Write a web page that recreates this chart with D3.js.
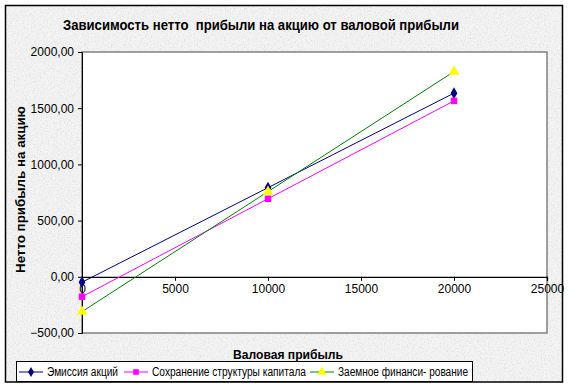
<!DOCTYPE html>
<html>
<head>
<meta charset="utf-8">
<script src="https://cdn.jsdelivr.net/npm/d3@7"></script>
<style>
  body { margin: 0; background: #fff; }
  svg text { font-family: "Liberation Sans", Arial, sans-serif; }
</style>
</head>
<body>
<div id="chart"></div>
<script>
// chart values
var grossProfit = [0, 10000, 20000];
var seriesNames = ["Эмиссия акций", "Сохранение структуры капитала", "Заемное финанси- рование"];
var emissionValues = [-48, 793, 1634];
var retainValues = [-177, 694, 1565];
var loanValues = [-310, 758, 1826];
var xTicks = [0, 5000, 10000, 15000, 20000, 25000];
var yTicks = [-500, 0, 500, 1000, 1500, 2000];

var colors = ["#000080", "#ff00ff", "#008000"];
var markerFill = ["#000080", "#ff00ff", "#ffff00"];
var markerType = [d3.symbolDiamond, d3.symbolSquare, d3.symbolTriangle];
var markerSize = [40, 42, 50];

var W = 570, H = 389;
var plot = { left: 82, top: 52, right: 547, bottom: 333 };

var svg = d3.select("#chart").append("svg")
    .attr("width", W).attr("height", H);

// squeeze a text element to the width it has in the picture
function fitWidth(sel, w) {
    sel.attr("textLength", w).attr("lengthAdjust", "spacingAndGlyphs");
}

// granite-like background texture
var defs = svg.append("defs");
var f = defs.append("filter").attr("id", "granite")
    .attr("x", 0).attr("y", 0).attr("width", "100%").attr("height", "100%");
f.append("feTurbulence").attr("type", "fractalNoise")
    .attr("baseFrequency", 0.7).attr("numOctaves", 2).attr("seed", 3).attr("result", "noise");
f.append("feColorMatrix").attr("in", "noise").attr("type", "matrix")
    .attr("values", "0 0 0 0 0.6  0 0 0 0 0.6  0 0 0 0 0.6  -1.2 0 0 0 0.65")
    .attr("result", "spots");
f.append("feFlood").attr("flood-color", "#f3f3f3").attr("result", "base");
f.append("feComposite").attr("in", "spots").attr("in2", "base").attr("operator", "over");

svg.append("rect").attr("x", 5).attr("y", 5).attr("width", 558).attr("height", 377)
    .attr("filter", "url(#granite)");
svg.append("rect").attr("x", 5.5).attr("y", 5.5).attr("width", 557).attr("height", 376.5)
    .attr("fill", "none").attr("stroke", "#000").attr("stroke-width", 1.5);

var x = d3.scaleLinear().domain([0, 25000]).range([plot.left, plot.right]);
var y = d3.scaleLinear().domain([-500, 2000]).range([plot.bottom, plot.top]);

// plot area
svg.append("rect")
    .attr("x", plot.left).attr("y", plot.top)
    .attr("width", plot.right - plot.left).attr("height", plot.bottom - plot.top)
    .attr("fill", "#fff").attr("stroke", "#808080").attr("stroke-width", 1.5);

// y axis (left edge of plot)
var yAxis = d3.axisLeft(y).tickValues(yTicks).tickSize(4).tickPadding(4)
    .tickFormat(function(d) { return d3.format(".2f")(d).replace(".", ","); });
var gy = svg.append("g").attr("transform", "translate(" + plot.left + ",0)").call(yAxis);
gy.select(".domain").attr("stroke", "#000");
gy.selectAll("text").attr("font-size", 12).attr("fill", "#000");

// x axis along zero line
var xAxis = d3.axisBottom(x).tickValues(xTicks).tickSize(4).tickPadding(4).tickFormat(d3.format("d"));
var gx = svg.append("g").attr("transform", "translate(0," + y(0) + ")").call(xAxis);
gx.select(".domain").attr("stroke", "#000").attr("stroke-width", 1.3);
gx.selectAll("text").attr("font-size", 12).attr("fill", "#000");

// series
var series = [emissionValues, retainValues, loanValues].map(function(vals, i) {
    return { name: seriesNames[i], points: vals.map(function(v, j) { return [grossProfit[j], v]; }) };
});

var line = d3.line().x(function(d) { return x(d[0]); }).y(function(d) { return y(d[1]); });

series.forEach(function(s, i) {
    svg.append("path").datum(s.points)
        .attr("d", line).attr("fill", "none")
        .attr("stroke", colors[i]).attr("stroke-width", 1);
});
series.forEach(function(s, i) {
    svg.selectAll(".m" + i).data(s.points).enter().append("path")
        .attr("class", "m" + i)
        .attr("transform", function(d) { return "translate(" + x(d[0]) + "," + y(d[1]) + ")"; })
        .attr("d", d3.symbol().type(markerType[i]).size(markerSize[i]))
        .attr("fill", markerFill[i]);
});

// titles
svg.append("text").attr("x", 63).attr("y", 30)
    .attr("font-size", 14).attr("font-weight", "bold")
    .style("white-space", "pre")
    .text("Зависимость нетто  прибыли на акцию от валовой прибыли")
    .call(fitWidth, 396);
svg.append("text").attr("transform", "translate(25,273) rotate(-90)")
    .attr("font-size", 13).attr("font-weight", "bold")
    .text("Нетто прибыль на акцию")
    .call(fitWidth, 167);
svg.append("text").attr("x", 233).attr("y", 359)
    .attr("font-size", 13).attr("font-weight", "bold")
    .text("Валовая прибыль")
    .call(fitWidth, 110);

// legend
var leg = svg.append("g");
leg.append("rect").attr("x", 16.5).attr("y", 361.5).attr("width", 456).attr("height", 20)
    .attr("fill", "#fff").attr("stroke", "#000");
var legX = [19, 124, 310];
var legW = [71, 154, 130];
series.forEach(function(s, i) {
    var g = leg.append("g").attr("transform", "translate(" + legX[i] + ",372)");
    g.append("line").attr("x1", 0).attr("x2", 24).attr("stroke", colors[i]);
    g.append("path").attr("transform", "translate(12,0)")
        .attr("d", d3.symbol().type(markerType[i]).size(markerSize[i] * 0.75))
        .attr("fill", markerFill[i]);
    g.append("text").attr("x", 28).attr("y", 4).attr("font-size", 12).attr("fill", "#000")
        .text(s.name).call(fitWidth, legW[i]);
});
</script>
</body>
</html>
